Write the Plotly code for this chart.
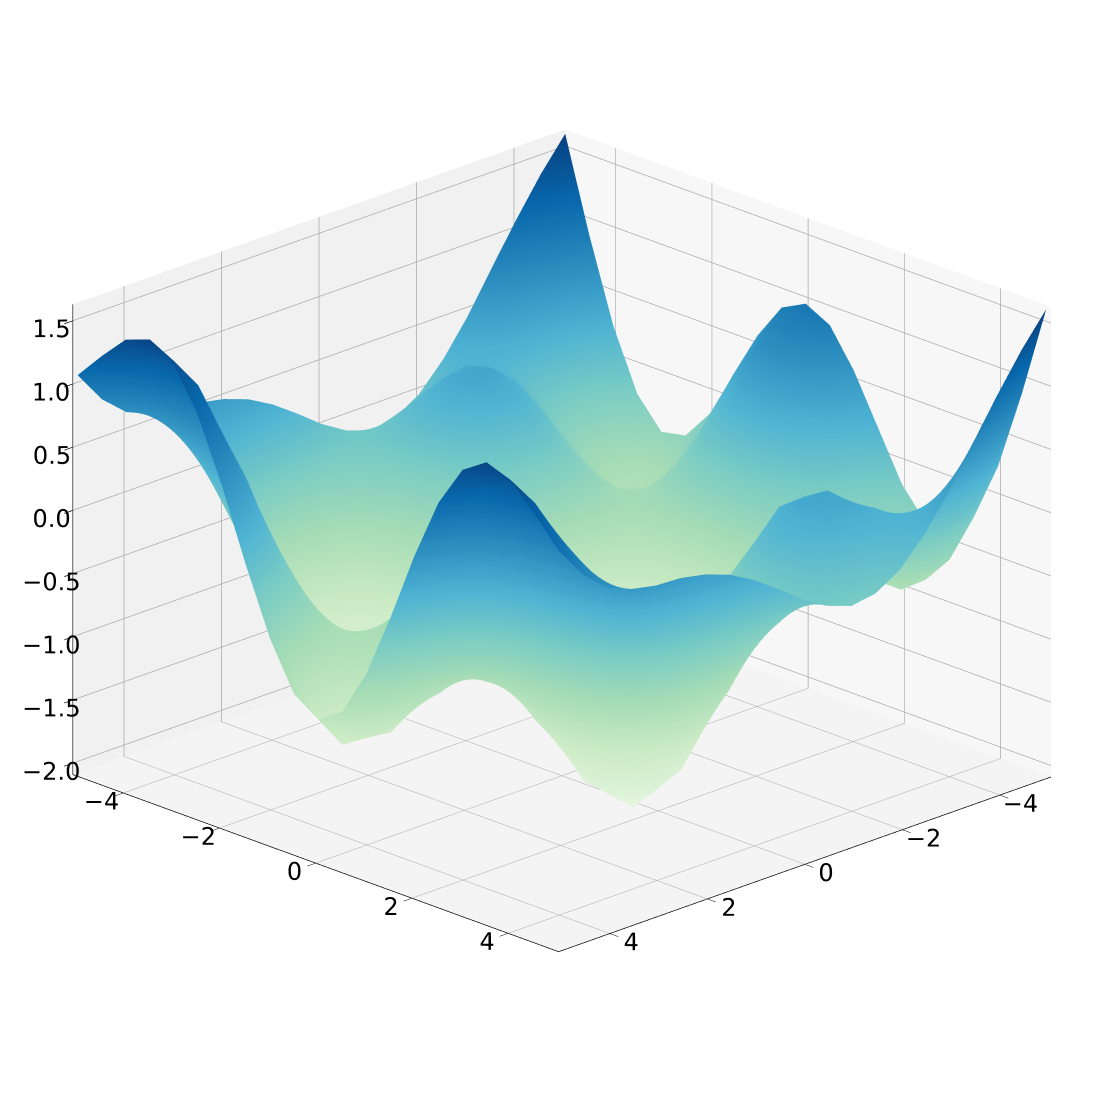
import plotly.graph_objects as go

x_vals = [-5, -4.5, -4, -3.5, -3, -2.5, -2, -1.5, -1, -0.5, 0, 0.5, 1, 1.5, 2, 2.5, 3, 3.5, 4, 4.5, 5]
y_vals = [-5, -4.5, -4, -3.5, -3, -2.5, -2, -1.5, -1, -0.5, 0, 0.5, 1, 1.5, 2, 2.5, 3, 3.5, 4, 4.5, 5]

# surface heights, one list per y
z_y50 = [1.61, 1.36, 1.07, 0.76, 0.44, 0.17, -0.04, -0.16, -0.19, -0.12, 0.00, 0.15, 0.29, 0.40, 0.47, 0.51, 0.52, 0.56, 0.64, 0.81, 1.07]
z_y45 = [0.88, 0.62, 0.44, 0.33, 0.26, 0.21, 0.15, 0.08, -0.02, -0.14, -0.26, -0.34, -0.38, -0.34, -0.23, -0.05, 0.20, 0.48, 0.76, 1.04, 1.29]
z_y40 = [0.23, -0.04, -0.12, -0.06, 0.09, 0.24, 0.33, 0.29, 0.12, -0.16, -0.48, -0.78, -0.98, -1.01, -0.86, -0.54, -0.09, 0.41, 0.87, 1.24, 1.49]
z_y35 = [-0.24, -0.51, -0.53, -0.36, -0.07, 0.21, 0.38, 0.37, 0.16, -0.22, -0.68, -1.12, -1.42, -1.50, -1.32, -0.91, -0.33, 0.30, 0.88, 1.32, 1.56]
z_y30 = [-0.47, -0.74, -0.75, -0.55, -0.24, 0.07, 0.26, 0.25, 0.03, -0.37, -0.86, -1.32, -1.64, -1.72, -1.54, -1.12, -0.52, 0.15, 0.75, 1.20, 1.43]
z_y25 = [-0.43, -0.70, -0.75, -0.63, -0.41, -0.19, -0.06, -0.09, -0.28, -0.61, -1.01, -1.38, -1.63, -1.68, -1.52, -1.15, -0.64, -0.07, 0.46, 0.86, 1.10]
z_y20 = [-0.19, -0.45, -0.58, -0.62, -0.59, -0.54, -0.53, -0.59, -0.72, -0.91, -1.13, -1.31, -1.42, -1.42, -1.29, -1.04, -0.70, -0.32, 0.05, 0.37, 0.61]
z_y15 = [0.19, -0.07, -0.31, -0.54, -0.75, -0.93, -1.07, -1.17, -1.23, -1.24, -1.22, -1.17, -1.11, -1.03, -0.94, -0.84, -0.73, -0.59, -0.42, -0.20, 0.05]
z_y10 = [0.57, 0.33, -0.02, -0.44, -0.88, -1.27, -1.56, -1.70, -1.69, -1.53, -1.29, -1.01, -0.78, -0.63, -0.58, -0.63, -0.73, -0.82, -0.84, -0.73, -0.46]
z_y05 = [0.86, 0.62, 0.20, -0.36, -0.97, -1.52, -1.91, -2.05, -1.98, -1.74, -1.33, -0.89, -0.54, -0.33, -0.32, -0.47, -0.72, -0.98, -1.13, -1.10, -0.83]
z_y00 = [0.96, 0.72, 0.28, -0.33, -1.00, -1.60, -1.97, -2.05, -2.00, -1.81, -1.34, -0.85, -0.45, -0.22, -0.22, -0.41, -0.72, -1.03, -1.24, -1.23, -0.96]

z_rows = [z_y50, z_y45, z_y40, z_y35, z_y30, z_y25, z_y20, z_y15, z_y10, z_y05, z_y00,
          z_y05, z_y10, z_y15, z_y20, z_y25, z_y30, z_y35, z_y40, z_y45, z_y50]

xy_ticks = [-4, -2, 0, 2, 4]
z_ticks = [-2.0, -1.5, -1.0, -0.5, 0.0, 0.5, 1.0, 1.5]

gnbu = [[0, "#f7fcf0"], [0.125, "#e0f3db"], [0.25, "#ccebc5"], [0.375, "#a8ddb5"], [0.5, "#7bccc4"],
        [0.625, "#4eb3d3"], [0.75, "#2b8cbe"], [0.875, "#0868ac"], [1, "#084081"]]


def axis_style(ticks, bg, fmt):
    return dict(tickvals=ticks, tickformat=fmt, tickangle=0, title=dict(text=""), ticks="outside", ticklen=12,
                tickwidth=1.5, tickcolor="black", showline=True, linecolor="black", linewidth=1.5, showgrid=True,
                gridcolor="#a8a8a8", gridwidth=1.5, zeroline=False, showspikes=False, showbackground=True,
                backgroundcolor=bg, tickfont=dict(family="DejaVu Sans", size=17, color="black"))


fig = go.Figure()
fig.add_trace(go.Surface(x=x_vals, y=y_vals, z=z_rows, colorscale=gnbu, cmin=-2.05, cmax=1.61, showscale=False,
                         lighting=dict(ambient=1, diffuse=0, specular=0, fresnel=0),
                         hoverinfo="skip"))

fig.update_layout(
    width=1097, height=1098, margin=dict(l=0, r=0, t=0, b=0), paper_bgcolor="white", showlegend=False,
    scene=dict(
        domain=dict(x=[0, 1], y=[0, 1]),
        aspectmode="manual", aspectratio=dict(x=1.26, y=1.26, z=0.918),
        xaxis=dict(axis_style(xy_ticks, "#f7f7f7", "d"), range=[-5.05, 5.05]),
        yaxis=dict(axis_style(xy_ticks, "#f1f1f1", "d"), range=[-5.05, 5.05]),
        zaxis=dict(axis_style(z_ticks, "#f4f4f4", ".1f"), range=[-2.09, 1.63]),
        camera=dict(eye=dict(x=1.036, y=1.036, z=0.533), up=dict(x=0, y=0, z=1),
                    center=dict(x=0.007, y=-0.007, z=-0.032),
                    projection=dict(type="orthographic")),
    ),
)

fig.write_html("out.html")
